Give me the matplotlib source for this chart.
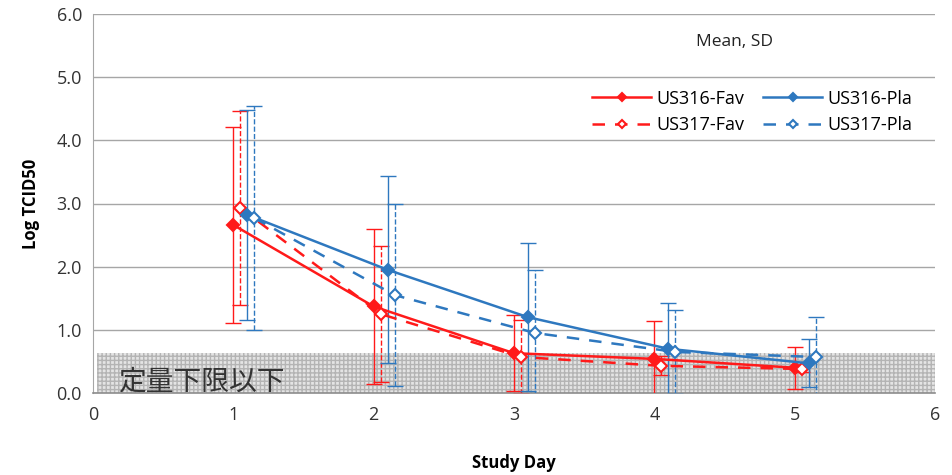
import matplotlib
matplotlib.use("Agg")
import matplotlib.pyplot as plt
import numpy as np

# Study days and per-series mean / SD of log TCID50
days = np.array([1, 2, 3, 4, 5])

us316_fav_mean = [2.66, 1.37, 0.63, 0.54, 0.40]
us316_fav_sd = [1.55, 1.23, 0.60, 0.60, 0.33]

us317_fav_mean = [2.93, 1.25, 0.57, 0.43, 0.38]
us317_fav_sd = [1.53, 1.07, 0.58, 0.15, 0.05]

us316_pla_mean = [2.82, 1.95, 1.20, 0.70, 0.47]
us316_pla_sd = [1.66, 1.48, 1.17, 0.73, 0.38]

us317_pla_mean = [2.77, 1.55, 0.95, 0.65, 0.57]
us317_pla_sd = [1.78, 1.44, 1.00, 0.66, 0.63]

lloq = 0.63  # lower limit of quantification band

RED = "#ff1a1a"
BLUE = "#2e78bf"

plt.rcParams["font.family"] = ["Open Sans", "Noto Sans CJK JP", "DejaVu Sans"]

fig = plt.figure(figsize=(9.52, 4.75), dpi=100)
ax = fig.add_axes([93 / 952, 1 - 393 / 475, (935 - 93) / 952, (393 - 14) / 475])

# shaded band below the quantification limit
ax.axhspan(0, lloq, xmin=0.005, xmax=1.0, facecolor="#e4e4e4",
           edgecolor="#b4b4b4", hatch="++++", linewidth=0, zorder=1)
ax.text(0.18, 0.19, "定量下限以下", fontsize=20, color="#333333",
        family=["Noto Sans CJK JP", "DejaVu Sans"], va="center", ha="left", zorder=2)

series = [
    ("US316-Fav", us316_fav_mean, us316_fav_sd, 0.00, RED, "-", RED),
    ("US317-Fav", us317_fav_mean, us317_fav_sd, 0.05, RED, "--", "white"),
    ("US316-Pla", us316_pla_mean, us316_pla_sd, 0.10, BLUE, "-", BLUE),
    ("US317-Pla", us317_pla_mean, us317_pla_sd, 0.15, BLUE, "--", "white"),
]

handles = []
for label, mean, sd, off, col, ls, face in series:
    x = days + off
    eb = ax.errorbar(x, mean, yerr=sd, fmt="none", ecolor=col, elinewidth=1.0,
                     capsize=6, capthick=1.0, zorder=3)
    for lc in eb[2]:
        lc.set_linestyle(ls)
    h, = ax.plot(x, mean, color=col, linestyle=ls, linewidth=1.8, marker="D",
                 markersize=6, markerfacecolor=face, markeredgecolor=col,
                 markeredgewidth=1.5, label=label, zorder=4,
                 dashes=(5, 4) if ls == "--" else (None, None))
    handles.append(h)

ax.set_xlim(0, 6)
ax.set_ylim(0, 6)
ax.set_xticks(range(0, 7))
ax.set_yticks(np.arange(0, 6.01, 1.0))
ax.set_yticklabels([f"{v:.1f}" for v in np.arange(0, 6.01, 1.0)])
ax.tick_params(axis="both", length=0, labelsize=13, colors="#333333")
ax.tick_params(axis="y", pad=8)
ax.tick_params(axis="x", pad=9)
ax.yaxis.grid(True, color="#a6a6a6", linewidth=1.0, zorder=0)
ax.set_axisbelow(True)

for s in ["top", "right"]:
    ax.spines[s].set_visible(False)
ax.spines["left"].set_color("#a6a6a6")
ax.spines["bottom"].set_color("#8c8c8c")
ax.spines["bottom"].set_linewidth(1.2)

ax.set_xlabel("Study Day", fontsize=12, fontweight="bold", labelpad=22)
ax.set_ylabel("Log TCID50", fontsize=12, fontweight="bold", labelpad=12)

ax.text(0.762, 0.925, "Mean, SD", transform=ax.transAxes, fontsize=12.5,
        ha="center", va="center", color="#222222")

leg = ax.legend(handles=handles, ncol=2, loc="center", bbox_to_anchor=(0.783, 0.742),
                frameon=False, fontsize=13, handlelength=3.3, columnspacing=1.0,
                labelspacing=0.45, handletextpad=0.3, markerscale=0.75)

fig.savefig("out.png", dpi=100)
